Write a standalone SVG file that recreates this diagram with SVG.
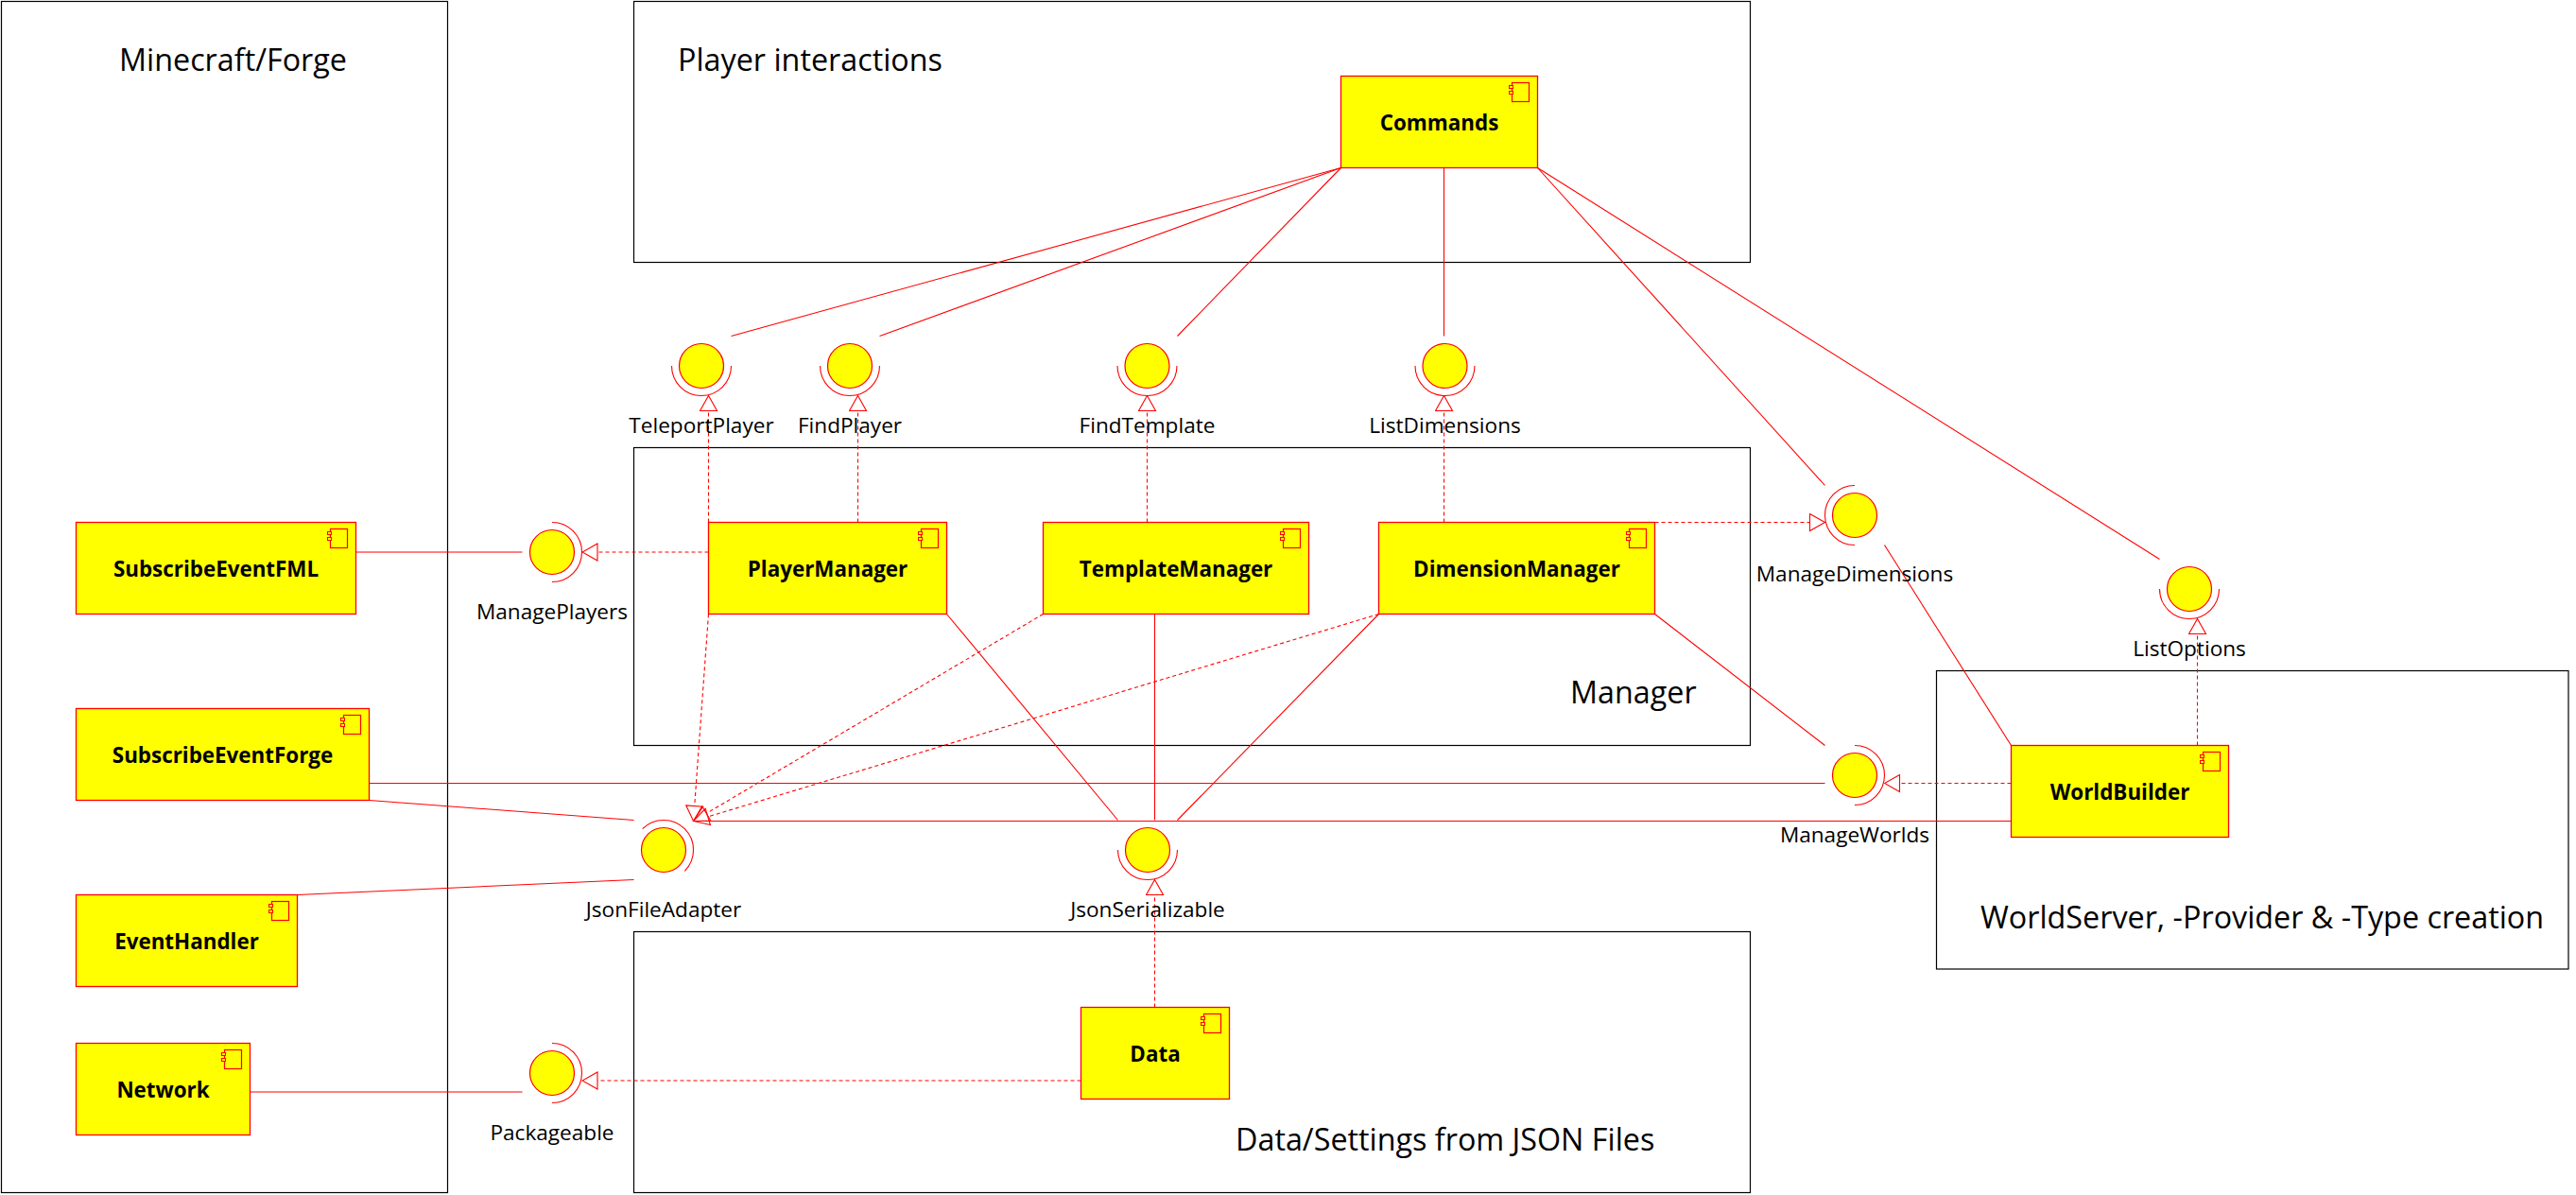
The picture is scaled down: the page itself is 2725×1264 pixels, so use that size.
<svg xmlns="http://www.w3.org/2000/svg" xmlns:xlink="http://www.w3.org/1999/xlink" width="2725" height="1264" viewBox="0 0 2725 1264">
  <style>
    .frame { fill: none; stroke: #000; stroke-width: 1.2; }
    .title { font-family: "Open Sans", "DejaVu Sans", sans-serif; font-size: 32.3px; fill: #000; }
    .comp rect.body { fill: #ffff00; stroke: #ff0000; stroke-width: 1.3; }
    .cname { font-family: "Open Sans", "DejaVu Sans", sans-serif; font-weight: bold; font-size: 22.4px; fill: #000; text-anchor: middle; }
    .iface circle { fill: #ffff00; stroke: #ff0000; stroke-width: 1.2; }
    .iface path { fill: none; stroke: #ff0000; stroke-width: 1.1; }
    .ilabel { font-family: "Open Sans", "DejaVu Sans", sans-serif; font-size: 22.6px; fill: #000; text-anchor: middle; }
    .use { fill: none; stroke: #ff0000; stroke-width: 1.1; }
    .real { fill: none; stroke: #ff0000; stroke-width: 1.1; stroke-dasharray: 4 3; marker-end: url(#realize); }
  </style>
  <defs>
    <!-- hollow triangle placed at the end of a realization line -->
    <marker id="realize" viewBox="-1 -10 18 20" refX="0" refY="0" markerWidth="18" markerHeight="20" markerUnits="userSpaceOnUse" orient="auto">
      <path d="M0,-9 L16,0 L0,9 Z" fill="none" stroke="#ff0000" stroke-width="1.1"/>
    </marker>
    <!-- UML component glyph -->
    <g id="cicon">
      <rect x="0" y="0" width="18" height="20" fill="#ffff00" stroke="#ff0000" stroke-width="1.2"/>
      <rect x="-3" y="3" width="4" height="3" fill="#ffff00" stroke="#ff0000" stroke-width="1"/>
      <rect x="-3" y="9" width="4" height="3" fill="#ffff00" stroke="#ff0000" stroke-width="1"/>
    </g>
  </defs>

  <rect width="2725" height="1264" fill="#ffffff"/>

  <!-- package frames -->
  <g id="frames">
    <g id="frame-minecraft">
      <rect class="frame" x="1.5" y="1.5" width="472" height="1260"/>
      <text class="title" x="126" y="75">Minecraft/Forge</text>
    </g>
    <g id="frame-player">
      <rect class="frame" x="670.5" y="1.5" width="1181" height="276"/>
      <text class="title" x="717" y="75">Player interactions</text>
    </g>
    <g id="frame-manager">
      <rect class="frame" x="670.5" y="473.5" width="1181" height="315"/>
      <text class="title" x="1661" y="744">Manager</text>
    </g>
    <g id="frame-data">
      <rect class="frame" x="670.5" y="985.5" width="1181" height="276"/>
      <text class="title" x="1307" y="1217">Data/Settings from JSON Files</text>
    </g>
    <g id="frame-world">
      <rect class="frame" x="2048.5" y="709.5" width="668.5" height="315.5"/>
      <text class="title" x="2095" y="982">WorldServer, -Provider &amp; -Type creation</text>
    </g>
  </g>

  <!-- connectors -->
  <g id="connectors">
    <!-- required interfaces -->
    <path class="use" d="M1418.5,177.5 L773.5,355.5"/>
    <path class="use" d="M1418.5,177.5 L930.5,355.5"/>
    <path class="use" d="M1418.5,177.5 L1245.5,355.5"/>
    <path class="use" d="M1527.5,177.5 L1527.5,355.5"/>
    <path class="use" d="M1626.5,177.5 L1930.5,513.5"/>
    <path class="use" d="M1626.5,177.5 L2284.5,591.5"/>
    <path class="use" d="M376.5,584 L552.5,584"/>
    <path class="use" d="M390.5,828.5 L1930.5,828.5"/>
    <path class="use" d="M390.5,846.5 L670.5,867.5"/>
    <path class="use" d="M314.5,946.5 L670.5,930.5"/>
    <path class="use" d="M264.5,1155 L552.5,1155"/>
    <path class="use" d="M1001.5,649.5 L1182.5,867.5"/>
    <path class="use" d="M1221.5,649.5 L1221.5,867.5"/>
    <path class="use" d="M1458.5,649.5 L1245.5,867.5"/>
    <path class="use" d="M1750.5,649.5 L1930.5,788.5"/>
    <path class="use" d="M1993.5,576.5 L2127.5,788.5"/>
    <path class="use" d="M2127.5,868.5 L733.5,868.5"/>
    <!-- realizations -->
    <path class="real" d="M749.5,552.5 L749.5,434.5"/>
    <path class="real" d="M907.5,552.5 L907.5,434.5"/>
    <path class="real" d="M1213.5,552.5 L1213.5,434.5"/>
    <path class="real" d="M1527.5,552.5 L1527.5,434.5"/>
    <path class="real" d="M749.5,584 L632,584"/>
    <path class="real" d="M1750.5,552.5 L1914.5,552.5"/>
    <path class="real" d="M2127.5,828.5 L2009.5,828.5"/>
    <path class="real" d="M2324.5,788.5 L2324.5,670.5"/>
    <path class="real" d="M1221.5,1065.5 L1221.5,946.5"/>
    <path class="real" d="M1143.5,1143 L632,1143"/>
    <path class="real" d="M749.5,649.5 L734.7,852.5"/>
    <path class="real" d="M1103.5,649.5 L747.3,860.4"/>
    <path class="real" d="M1458.5,649.5 L748.8,863.9"/>
  </g>

  <!-- components -->
  <g id="Commands" class="comp">
    <rect class="body" x="1418.5" y="80.5" width="208" height="97"/>
    <use xlink:href="#cicon" x="1599.5" y="87.5"/>
    <text class="cname" x="1522.5" y="137.5">Commands</text>
  </g>
  <g id="SubscribeEventFML" class="comp">
    <rect class="body" x="80.5" y="552.5" width="296" height="97"/>
    <use xlink:href="#cicon" x="349.5" y="559.5"/>
    <text class="cname" x="228.5" y="609.5">SubscribeEventFML</text>
  </g>
  <g id="SubscribeEventForge" class="comp">
    <rect class="body" x="80.5" y="749.5" width="310" height="97"/>
    <use xlink:href="#cicon" x="363.5" y="756.5"/>
    <text class="cname" x="235.5" y="806.5">SubscribeEventForge</text>
  </g>
  <g id="EventHandler" class="comp">
    <rect class="body" x="80.5" y="946.5" width="234" height="97"/>
    <use xlink:href="#cicon" x="287.5" y="953.5"/>
    <text class="cname" x="197.5" y="1003.5">EventHandler</text>
  </g>
  <g id="Network" class="comp">
    <rect class="body" x="80.5" y="1103.5" width="184" height="97"/>
    <use xlink:href="#cicon" x="237.5" y="1110.5"/>
    <text class="cname" x="172.5" y="1160.5">Network</text>
  </g>
  <g id="PlayerManager" class="comp">
    <rect class="body" x="749.5" y="552.5" width="252" height="97"/>
    <use xlink:href="#cicon" x="974.5" y="559.5"/>
    <text class="cname" x="875.5" y="609.5">PlayerManager</text>
  </g>
  <g id="TemplateManager" class="comp">
    <rect class="body" x="1103.5" y="552.5" width="281" height="97"/>
    <use xlink:href="#cicon" x="1357.5" y="559.5"/>
    <text class="cname" x="1244" y="609.5">TemplateManager</text>
  </g>
  <g id="DimensionManager" class="comp">
    <rect class="body" x="1458.5" y="552.5" width="292" height="97"/>
    <use xlink:href="#cicon" x="1723.5" y="559.5"/>
    <text class="cname" x="1604.5" y="609.5">DimensionManager</text>
  </g>
  <g id="Data" class="comp">
    <rect class="body" x="1143.5" y="1065.5" width="157" height="97"/>
    <use xlink:href="#cicon" x="1273.5" y="1072.5"/>
    <text class="cname" x="1222" y="1122.5">Data</text>
  </g>
  <g id="WorldBuilder" class="comp">
    <rect class="body" x="2127.5" y="788.5" width="230" height="97"/>
    <use xlink:href="#cicon" x="2330.5" y="795.5"/>
    <text class="cname" x="2242.5" y="845.5">WorldBuilder</text>
  </g>

  <!-- interfaces: ball with half-ring on the realizing side -->
  <g id="TeleportPlayer" class="iface">
    <circle cx="742" cy="387" r="23.5"/>
    <path d="M710.5,387 A31.5,31.5 0 0 0 773.5,387"/>
    <text class="ilabel" x="742" y="458">TeleportPlayer</text>
  </g>
  <g id="FindPlayer" class="iface">
    <circle cx="899" cy="387" r="23.5"/>
    <path d="M867.5,387 A31.5,31.5 0 0 0 930.5,387"/>
    <text class="ilabel" x="899" y="458">FindPlayer</text>
  </g>
  <g id="FindTemplate" class="iface">
    <circle cx="1213.5" cy="387" r="23.5"/>
    <path d="M1182,387 A31.5,31.5 0 0 0 1245,387"/>
    <text class="ilabel" x="1213.5" y="458">FindTemplate</text>
  </g>
  <g id="ListDimensions" class="iface">
    <circle cx="1528.5" cy="387" r="23.5"/>
    <path d="M1497,387 A31.5,31.5 0 0 0 1560,387"/>
    <text class="ilabel" x="1528.5" y="458">ListDimensions</text>
  </g>
  <g id="ManagePlayers" class="iface">
    <circle cx="584" cy="584" r="23.5"/>
    <path d="M584,552.5 A31.5,31.5 0 0 1 584,615.5"/>
    <text class="ilabel" x="584" y="655">ManagePlayers</text>
  </g>
  <g id="ManageDimensions" class="iface">
    <circle cx="1962" cy="545" r="23.5"/>
    <path d="M1962,513.5 A31.5,31.5 0 0 0 1962,576.5"/>
    <text class="ilabel" x="1962" y="615">ManageDimensions</text>
  </g>
  <g id="ListOptions" class="iface">
    <circle cx="2316" cy="623" r="23.5"/>
    <path d="M2284.5,623 A31.5,31.5 0 0 0 2347.5,623"/>
    <text class="ilabel" x="2316" y="694">ListOptions</text>
  </g>
  <g id="ManageWorlds" class="iface">
    <circle cx="1962" cy="820" r="23.5"/>
    <path d="M1962,788.5 A31.5,31.5 0 0 1 1962,851.5"/>
    <text class="ilabel" x="1962" y="891">ManageWorlds</text>
  </g>
  <g id="JsonFileAdapter" class="iface">
    <circle cx="702" cy="899" r="23.5"/>
    <path d="M679.7,876.7 A31.5,31.5 0 0 1 724.3,921.3"/>
    <text class="ilabel" x="702" y="970">JsonFileAdapter</text>
  </g>
  <g id="JsonSerializable" class="iface">
    <circle cx="1214" cy="899" r="23.5"/>
    <path d="M1182.5,899 A31.5,31.5 0 0 0 1245.5,899"/>
    <text class="ilabel" x="1214" y="970">JsonSerializable</text>
  </g>
  <g id="Packageable" class="iface">
    <circle cx="584" cy="1135" r="23.5"/>
    <path d="M584,1103.5 A31.5,31.5 0 0 1 584,1166.5"/>
    <text class="ilabel" x="584" y="1206">Packageable</text>
  </g>
</svg>
